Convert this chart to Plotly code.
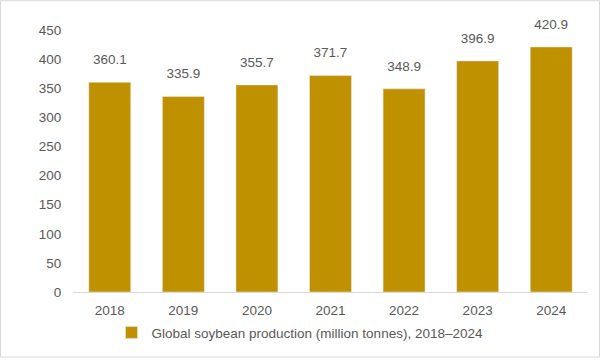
import plotly.graph_objects as go

years = ["2018", "2019", "2020", "2021", "2022", "2023", "2024"]
production = [360.1, 335.9, 355.7, 371.7, 348.9, 396.9, 420.9]
y_ticks = [0, 50, 100, 150, 200, 250, 300, 350, 400, 450]

FONT = "Liberation Sans, Arial, sans-serif"
GRAY = "#595959"
BAR = "#BF9000"
FS = 13.5

fig = go.Figure()
fig.add_trace(go.Bar(
    x=years, y=production, marker=dict(color=BAR),
    name="Global soybean production (million tonnes), 2018\u20132024",
    hoverinfo="skip",
))
fig.add_trace(go.Scatter(
    x=years, y=production, mode="markers+text",
    text=[f"{v:.1f}" for v in production], textposition="top center",
    marker=dict(size=22, opacity=0, color=BAR),
    textfont=dict(family=FONT, size=FS, color=GRAY),
    showlegend=False, hoverinfo="skip", cliponaxis=False,
))

L, R, T, B = 73, 12, 30, 66
W, H = 600, 360
pw, ph = W - L - R, H - T - B
fig.add_shape(type="rect", xref="paper", yref="paper",
              x0=(0.5 - L) / pw, x1=(W - 0.5 - L) / pw,
              y0=-(B - 0.5) / ph, y1=(T - 0.5) / ph + 1,
              line=dict(color="#D9D9D9", width=1), fillcolor="rgba(0,0,0,0)")

fig.update_layout(
    width=W, height=H,
    margin=dict(l=L, r=R, t=T, b=B),
    paper_bgcolor="white", plot_bgcolor="white",
    bargap=0.43,
    font=dict(family=FONT, size=FS, color=GRAY),
    showlegend=True,
    legend=dict(orientation="h", xref="paper", yref="paper",
                x=(300 - L) / pw, xanchor="center",
                y=-(335 - (H - B)) / ph, yanchor="middle",
                bgcolor="rgba(0,0,0,0)",
                font=dict(family=FONT, size=FS, color=GRAY)),
    xaxis=dict(type="category", range=[-0.5, len(years) - 0.5],
               showline=True, linecolor="#D9D9D9", linewidth=1,
               ticks="outside", ticklen=6, tickcolor="rgba(0,0,0,0)", showgrid=False),
    yaxis=dict(range=[0, 450], tickvals=y_ticks, showgrid=False,
               zeroline=False, showline=False, ticks="outside",
               ticklen=8, tickcolor="rgba(0,0,0,0)"),
)
fig.write_html("out.html", config={"displayModeBar": False, "staticPlot": True},
               post_script="document.body.style.margin='0';")
